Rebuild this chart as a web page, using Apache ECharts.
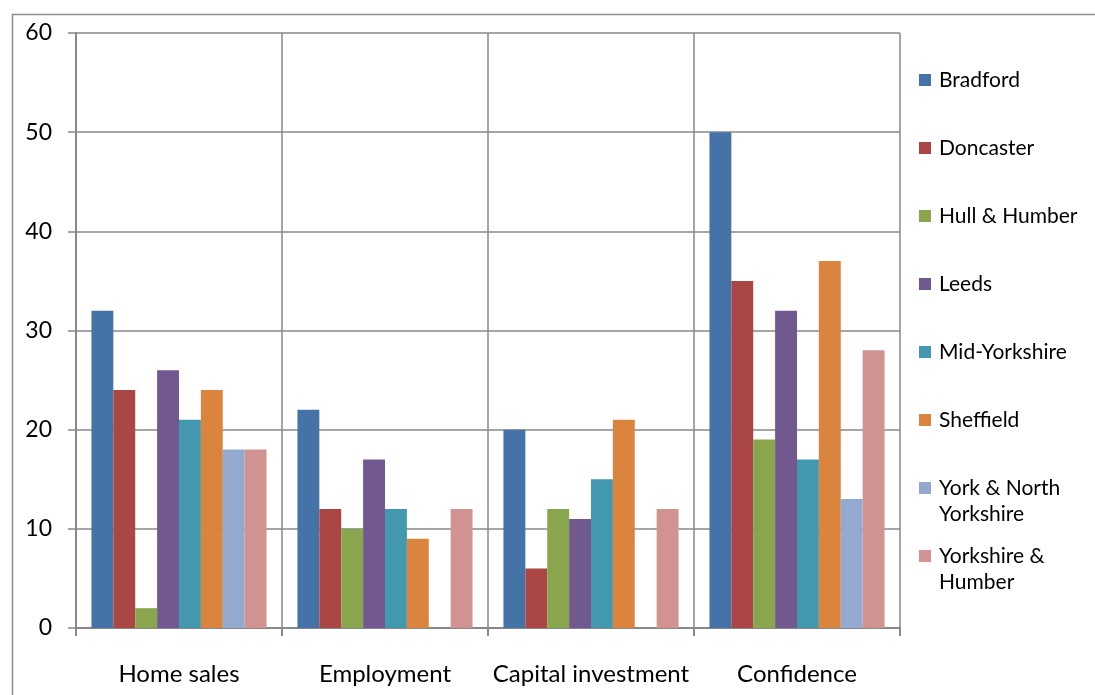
<!DOCTYPE html>
<html>
<head>
<meta charset="utf-8">
<script src="https://cdn.jsdelivr.net/npm/echarts@6/dist/echarts.min.js"></script>
<style>
  html, body { margin: 0; padding: 0; background: #fff; }
  #chart { width: 1095px; height: 695px; }
</style>
</head>
<body>
<div id="chart"></div>
<script>
// Survey categories along the x axis
const categories = ['Home sales', 'Employment', 'Capital investment', 'Confidence'];

// One list per area, values in category order (null = no response)
const bradford       = [32, 22, 20, 50];
const doncaster      = [24, 12, 6, 35];
const hullHumber     = [2, 10, 12, 19];
const leeds          = [26, 17, 11, 32];
const midYorkshire   = [21, 12, 15, 17];
const sheffield      = [24, 9, 21, 37];
const yorkNorth      = [18, null, null, 13];
const yorkshireHumber= [18, 12, 12, 28];

const seriesNames = ['Bradford', 'Doncaster', 'Hull & Humber', 'Leeds',
  'Mid-Yorkshire', 'Sheffield', 'York & North Yorkshire', 'Yorkshire & Humber'];
const seriesValues = [bradford, doncaster, hullHumber, leeds,
  midYorkshire, sheffield, yorkNorth, yorkshireHumber];

// Legend text, wrapped onto two lines where needed
const legendLabels = {
  'York & North Yorkshire': 'York & North\nYorkshire',
  'Yorkshire & Humber': 'Yorkshire &\nHumber'
};

// Y axis ticks
const yTicks = [0, 10, 20, 30, 40, 50, 60];

const colors = ['#4572A7', '#AA4643', '#89A54E', '#71588F',
  '#4198AF', '#DB843D', '#93A9CF', '#D19392'];

const FONT = 'Lato';
const GRID = '#888888';

const chart = echarts.init(document.getElementById('chart'), null, { renderer: 'canvas' });

// Legend swatch: 12px square placed beside the first text line
const swatch = 'path://M0,7L12,7L12,19L0,19Z M0,0L15,0 M0,52L15,52';

chart.setOption({
  animation: false,
  color: colors,
  grid: { left: 76, right: 195, top: 33, bottom: 67, containLabel: false },
  graphic: [{
    type: 'rect',
    left: 10, top: 12,
    shape: { width: 1200, height: 1000 },
    style: { fill: 'none', stroke: '#8c8c8c', lineWidth: 1.5 },
    silent: true
  }],
  legend: {
    orient: 'vertical',
    left: 919, top: 67,
    padding: 0,
    itemGap: 16,
    itemWidth: 15,
    itemHeight: 52,
    icon: swatch,
    data: seriesNames,
    formatter: name => (legendLabels[name] || (name + '\n\u00a0')),
    textStyle: { fontFamily: FONT, fontSize: 21, color: '#000', lineHeight: 26 }
  },
  xAxis: {
    type: 'category',
    data: categories,
    boundaryGap: true,
    axisLine: { show: true, lineStyle: { color: GRID, width: 2 } },
    axisTick: { show: true, interval: 0, length: 8, lineStyle: { color: GRID, width: 2 } },
    splitLine: { show: true, interval: 0, lineStyle: { color: GRID, width: 1.5 } },
    axisLabel: { interval: 0, fontFamily: FONT, fontSize: 24, color: '#000', margin: 34 }
  },
  yAxis: {
    type: 'value',
    min: yTicks[0],
    max: yTicks[yTicks.length - 1],
    interval: yTicks[1] - yTicks[0],
    axisLine: { show: true, lineStyle: { color: GRID, width: 2 } },
    axisTick: { show: true, length: 8, lineStyle: { color: GRID, width: 1.5 } },
    splitLine: { show: true, lineStyle: { color: GRID, width: 1.5 } },
    axisLabel: { fontFamily: FONT, fontSize: 23, color: '#000', margin: 24 }
  },
  series: seriesNames.map((name, i) => ({
    name: name,
    type: 'bar',
    data: seriesValues[i],
    barGap: '0%',
    barCategoryGap: '15%',
    itemStyle: { color: colors[i] }
  }))
});
</script>
</body>
</html>
